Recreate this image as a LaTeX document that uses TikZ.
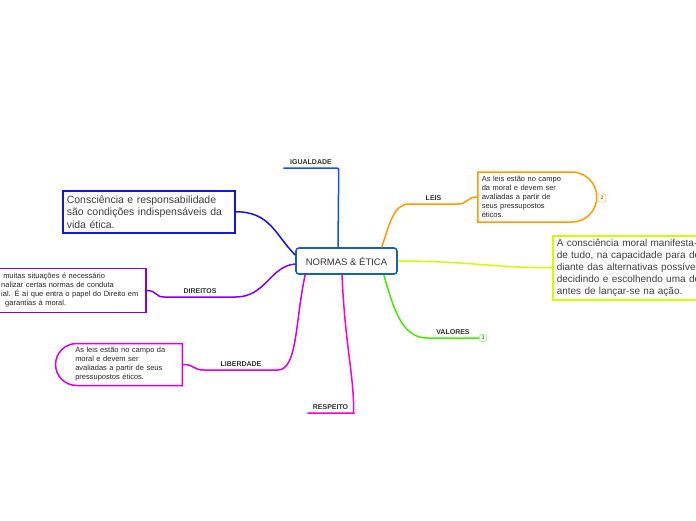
\documentclass[tikz,border=0pt]{standalone}
\usepackage{fontspec}
\setmainfont{Liberation Sans}
\usetikzlibrary{shapes.misc}
\definecolor{txt}{HTML}{333333}
\definecolor{cnorm}{HTML}{1E5FA8}
\definecolor{cigu}{HTML}{1450F0}
\definecolor{cresp}{HTML}{1414E6}
\definecolor{cdir}{HTML}{8200F0}
\definecolor{clib}{HTML}{D200F0}
\definecolor{cres}{HTML}{FF00C8}
\definecolor{cval}{HTML}{46EB00}
\definecolor{cmor}{HTML}{CDFF00}
\definecolor{cleis}{HTML}{FF9B00}
\begin{document}
\begin{tikzpicture}[x=1pt, y=-1pt, line width=1.5pt,
  every node/.style={text=txt, inner sep=0pt},
  lbl/.style={font=\bfseries\fontsize{7}{8}\selectfont, anchor=south, inner ysep=2.5pt},
  small/.style={font=\fontsize{7.5}{9}\selectfont, align=left, inner sep=4pt, text=black!85},
  big/.style={font=\fontsize{10.5}{12.5}\selectfont, align=left, inner xsep=4pt, inner ysep=2pt, text=black!75}]
\useasboundingbox (0,0) rectangle (696,520);
\clip (0,0) rectangle (696,520);
\node[draw=cnorm, line width=1.6pt, rounded corners=3pt, minimum width=101pt, minimum height=26pt, font=\fontsize{9.5}{11}\selectfont] (normas) at (346.5,261) {NORMAS \& ÉTICA};
\node[lbl, minimum width=54pt] (igualdade) at (311,168) {IGUALDADE};
\node[lbl, minimum width=47pt] (leis) at (433.5,204) {LEIS};
\node[lbl, minimum width=50pt] (valores) at (453,338) {VALORES};
\node[lbl, minimum width=45pt] (respeito) at (330.5,413) {RESPEITO};
\node[lbl, minimum width=72pt] (liberdade) at (241,370) {LIBERDADE};
\node[lbl, minimum width=70pt] (direitos) at (200,297) {DIREITOS};
\node[big, draw=cresp, anchor=north west, minimum width=172pt, minimum height=42pt, text width=164pt] (consc) at (62,190) {Consciência e responsabilidade\\são condições indispensáveis da\\vida ética.};
\node[big, draw=cmor, anchor=north west, minimum height=64pt, text width=150pt, font=\fontsize{10}{12}\selectfont] (moral) at (552,235) {A consciência moral manifesta-\\de tudo, na capacidade para de\\diante das alternativas possívei\\decidindo e escolhendo uma de\\antes de lançar-se na ação.};
\node[small, draw=cleis, rounded rectangle, rounded rectangle west arc=none, anchor=west, minimum height=50pt, text width=100pt] (leisbox) at (477,197) {As leis estão no campo\\da moral e devem ser\\avaliadas a partir de\\seus pressupostos\\éticos.};
\node[small, draw=clib, rounded rectangle, rounded rectangle east arc=none, anchor=east, minimum height=41pt, text width=96pt, inner xsep=11pt] (libbox) at (183,364.5) {As leis estão no campo da\\moral e devem ser\\avaliadas a partir de seus\\pressupostos éticos.};
\node[small, anchor=east, minimum height=41pt, text width=142pt, inner xsep=2pt] (dirbox) at (146,290.5) {\hspace*{2pt}muitas situações é necessário\\nalizar certas normas de conduta\\ial. É aí que entra o papel do Direito em\\\hspace*{4pt}garantias à moral.};
\draw[cdir] (dirbox.north east) rectangle ([xshift=-10pt]dirbox.south west);
\node[draw=cleis!50, line width=0.8pt, rounded corners=2pt, minimum size=8pt, font=\fontsize{5}{5}\selectfont] (b2) at (602,198) {2};
\node[draw=cval!50, line width=0.8pt, rounded corners=2pt, minimum size=7pt, font=\fontsize{5}{5}\selectfont] (b3) at (483,338) {3};
\draw[cigu, rounded corners=2pt] ([xshift=-8.5pt]normas.north) -- (igualdade.south east) -- (igualdade.south west);
\draw[cleis] ([xshift=-16pt]normas.north east) .. controls +(8,-25) and +(-15,0) .. (leis.south west) -- (leis.south east) .. controls +(10,0) and +(-10,0) .. (leisbox.west);
\draw[cmor] (normas.east) .. controls +(70,0) and +(-60,0) .. (moral.west);
\draw[cval] ([xshift=-14pt]normas.south east) .. controls +(10,35) and +(-25,0) .. (valores.south west) -- (valores.south east);
\draw[cres] ([xshift=-4.5pt]normas.south) .. controls +(3,70) and +(0,-40) .. (respeito.south east) -- (respeito.south west);
\draw[clib] ([xshift=10pt]normas.south west) .. controls +(-10,45) and +(20,0) .. (liberdade.south east) -- (liberdade.south west) .. controls +(-12,0) and +(12,0) .. (libbox.east);
\draw[cdir] (dirbox.east) .. controls +(12,0) and +(-10,0) .. (direitos.south west) -- (direitos.south east) .. controls +(30,0) and +(-25,2) .. ([yshift=-3pt]normas.west);
\draw[cresp] (consc.east) .. controls +(35,0) and +(-20,-20) .. ([yshift=6pt]normas.west);
\end{tikzpicture}
\end{document}
